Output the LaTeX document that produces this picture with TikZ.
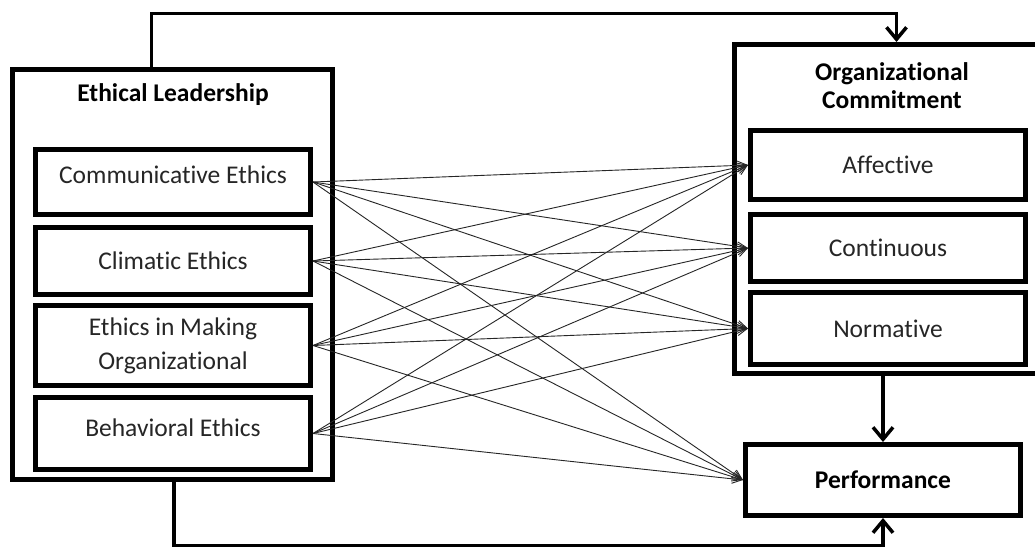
\documentclass[tikz,border=0pt]{standalone}
\usepackage{fontspec}
\setmainfont{Carlito}[Ligatures=NoCommon]
\usetikzlibrary{arrows.meta}
\begin{document}
\begin{tikzpicture}[x=1pt,y=-1pt,
  frame/.style={draw, line width=5pt, inner sep=0pt},
  box/.style={draw, line width=5pt, inner sep=0pt, minimum width=275pt, align=center,
    font=\fontsize{25.5}{34}\selectfont, text=black!85},
  title/.style={align=center, inner sep=0pt, font=\fontsize{25.5}{28}\selectfont\bfseries},
  conn/.style={line width=3.5pt, -{Straight Barb[length=12pt,width=20pt,line width=3.5pt]}},
  thin/.style={line width=0.9pt, black!85, -{Straight Barb[length=10pt,width=9pt,line width=0.9pt]}}
]
\useasboundingbox (0,0) rectangle (1035,548);
\fill[white] (0,0) rectangle (1035,548);
% Ethical leadership group
\node[frame, minimum width=320pt, minimum height=410pt] (lead) at (172.5,274.5) {};
\node[title] (leadt) at (173,95) {Ethical Leadership};
\node[box, minimum height=65pt, text depth=14pt] (comm) at (173,182) {Communicative Ethics};
\node[box, minimum height=67pt] (clim) at (173,261) {Climatic Ethics};
\node[box, minimum height=80pt] (making) at (173,345.5) {Ethics in Making\\Organizational};
\node[box, minimum height=72pt, text depth=12pt] (behav) at (173,433.5) {Behavioral Ethics};
% Organizational commitment group
\node[frame, minimum width=306pt, minimum height=328.5pt] (oc) at (887.5,208.75) {};
\node[title] (oct) at (892,86) {Organizational\\Commitment};
\node[box, minimum height=69pt] (aff) at (888,165) {Affective};
\node[box, minimum height=67pt] (cont) at (888,248) {Continuous};
\node[box, minimum height=72pt] (norm) at (888,328.5) {Normative};
\node[box, minimum height=71pt, font=\fontsize{25.5}{28}\selectfont\bfseries, text=black] (perf) at (883,480) {Performance};
% thick connectors
\coordinate (tl) at (151.5,13.5);
\coordinate (tr) at (896.5,13.5);
\coordinate (bl) at (174,545.5);
\coordinate (br) at (883,545.5);
\draw[conn] (tl |- lead.north) -- (tl) -- (tr) -- (tr |- oc.north);
\draw[conn] (perf.north |- oc.south) -- (perf.north);
\draw[conn] (bl |- lead.south) -- (bl) -- (br) -- (perf.south);
% thin connectors
\foreach \s in {comm,clim,making,behav}{
  \foreach \t in {aff,cont,norm,perf}{
    \draw[thin] (\s.east) -- (\t.west);
  }
}
\end{tikzpicture}
\end{document}
